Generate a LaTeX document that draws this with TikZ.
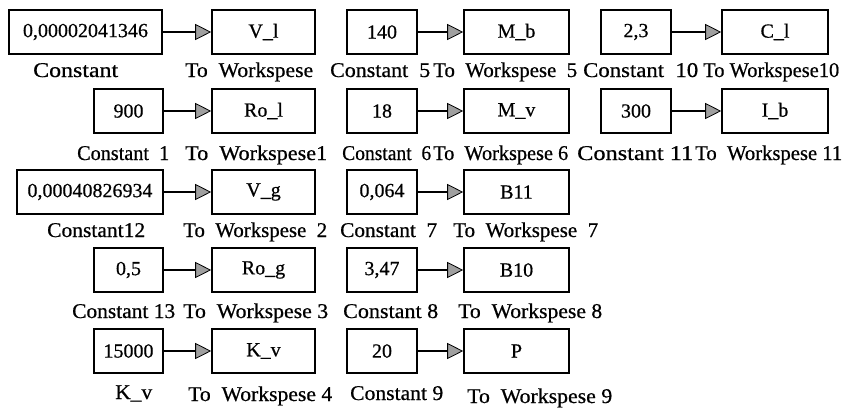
\documentclass[tikz,border=0pt]{standalone}
\usepackage{fontspec}
\usepackage{graphicx}
\setmainfont{Liberation Serif}[FakeBold=0.6]
\usetikzlibrary{arrows.meta}
\newcommand\mylab[2]{\resizebox{#1pt}{\height}{#2}}
\tikzset{
  blk/.style={draw=black, line width=1.6pt, rectangle, inner sep=0pt, minimum height=44pt,
              font=\fontsize{20}{24}\selectfont},
  cbox/.style={blk},
  wbox/.style={blk, minimum width=103pt},
  lbl/.style={inner sep=0pt, font=\fontsize{21}{25}\selectfont, anchor=west,
              text height=14pt, text depth=4pt},
  conn/.style={line width=1.3pt, -{Triangle[length=16pt,width=16pt,fill=gray!75,line width=0.8pt]}}
}
\begin{document}
\begin{tikzpicture}[x=1pt,y=-1pt]
\useasboundingbox (0,0) rectangle (842,407);
% column 1
\node[cbox, minimum width=153pt] (c0) at (85.5,32) {0,00002041346};
\node[wbox] (w0) at (263.5,32) {V\_l};
\node[cbox, minimum width=69pt] (c1) at (128.5,111) {900};
\node[wbox] (w1) at (263.5,111) {Ro\_l};
\node[cbox, minimum width=146pt] (c12) at (90,192) {0,00040826934};
\node[wbox] (w2) at (263.5,192) {V\_g};
\node[cbox, minimum width=69pt] (c13) at (128.5,270) {0,5};
\node[wbox] (w3) at (263.5,270) {Ro\_g};
\node[cbox, minimum width=69pt] (ckv) at (128.5,351) {15000};
\node[wbox] (w4) at (263.5,351) {K\_v};
% column 2
\node[cbox, minimum width=70pt] (c5) at (382,32) {140};
\node[wbox, minimum width=105pt] (w5) at (516.5,32) {M\_b};
\node[cbox, minimum width=70pt] (c6) at (382,111) {18};
\node[wbox, minimum width=105pt] (w6) at (516.5,111) {M\_v};
\node[cbox, minimum width=70pt] (c7) at (382,192) {0,064};
\node[wbox, minimum width=105pt] (w7) at (516.5,192) {B11};
\node[cbox, minimum width=70pt] (c8) at (382,270) {3,47};
\node[wbox, minimum width=105pt] (w8) at (516.5,270) {B10};
\node[cbox, minimum width=70pt] (c9) at (382,351) {20};
\node[wbox, minimum width=105pt] (w9) at (516.5,351) {P};
% column 3
\node[cbox, minimum width=70pt] (c10) at (636,32) {2,3};
\node[wbox, minimum width=106pt] (w10) at (775,32) {C\_l};
\node[cbox, minimum width=70pt] (c11) at (636,111) {300};
\node[wbox, minimum width=106pt] (w11) at (775,111) {I\_b};
% connectors
\foreach \a/\b in {c0/w0,c1/w1,c12/w2,c13/w3,ckv/w4,c5/w5,c6/w6,c7/w7,c8/w8,c9/w9,c10/w10,c11/w11}
  \draw[conn] (\a.east) -- (\b.west);
% labels row 1
\node[lbl] (l0) at (33,72) {\mylab{85}{Constant}};
\node[lbl] (lw0) at (185,72) {\mylab{128}{To\ \ Workspese}};
\node[lbl] (l5) at (330,72) {\mylab{100}{Constant\ \ 5}};
\node[lbl] (lw5) at (433,72) {\mylab{144}{To\ \ Workspese\ \ 5}};
\node[lbl] (l10) at (583,72) {\mylab{115}{Constant\ \ 10}};
\node[lbl] (lw10) at (703,72) {\mylab{136}{To Workspese10}};
% labels row 2
\node[lbl] (l1) at (77,155) {\mylab{92}{Constant\ \ 1}};
\node[lbl] (lw1) at (185,155) {\mylab{142}{To\ \ Workspese1}};
\node[lbl] (l6) at (342,155) {\mylab{89}{Constant\ \ 6}};
\node[lbl] (lw6) at (433,155) {\mylab{135}{To\ \ Workspese 6}};
\node[lbl] (l11) at (577,155) {\mylab{116}{Constant 11}};
\node[lbl] (lw11) at (695,155) {\mylab{147}{To\ \ Workspese 11}};
% labels row 3
\node[lbl] (l12) at (47,232) {\mylab{98}{Constant12}};
\node[lbl] (lw2) at (183,232) {\mylab{144}{To\ \ Workspese\ \ 2}};
\node[lbl] (l7) at (340,232) {\mylab{97}{Constant\ \ 7}};
\node[lbl] (lw7) at (453,232) {\mylab{145}{To\ \ Workspese\ \ 7}};
% labels row 4
\node[lbl] (l13) at (72,313) {\mylab{103}{Constant 13}};
\node[lbl] (lw3) at (183,313) {\mylab{145}{To\ \ Workspese 3}};
\node[lbl] (l8) at (343,313) {\mylab{95}{Constant 8}};
\node[lbl] (lw8) at (458,313) {\mylab{144}{To\ \ Workspese 8}};
% labels row 5
\node[lbl] (lkv) at (115,394) {\mylab{37}{K\_v}};
\node[lbl] (lw4) at (188,396) {\mylab{144}{To\ \ Workspese 4}};
\node[lbl] (l9) at (350,395) {\mylab{93}{Constant 9}};
\node[lbl] (lw9) at (467,398) {\mylab{145}{To\ \ Workspese 9}};
\end{tikzpicture}
\end{document}
